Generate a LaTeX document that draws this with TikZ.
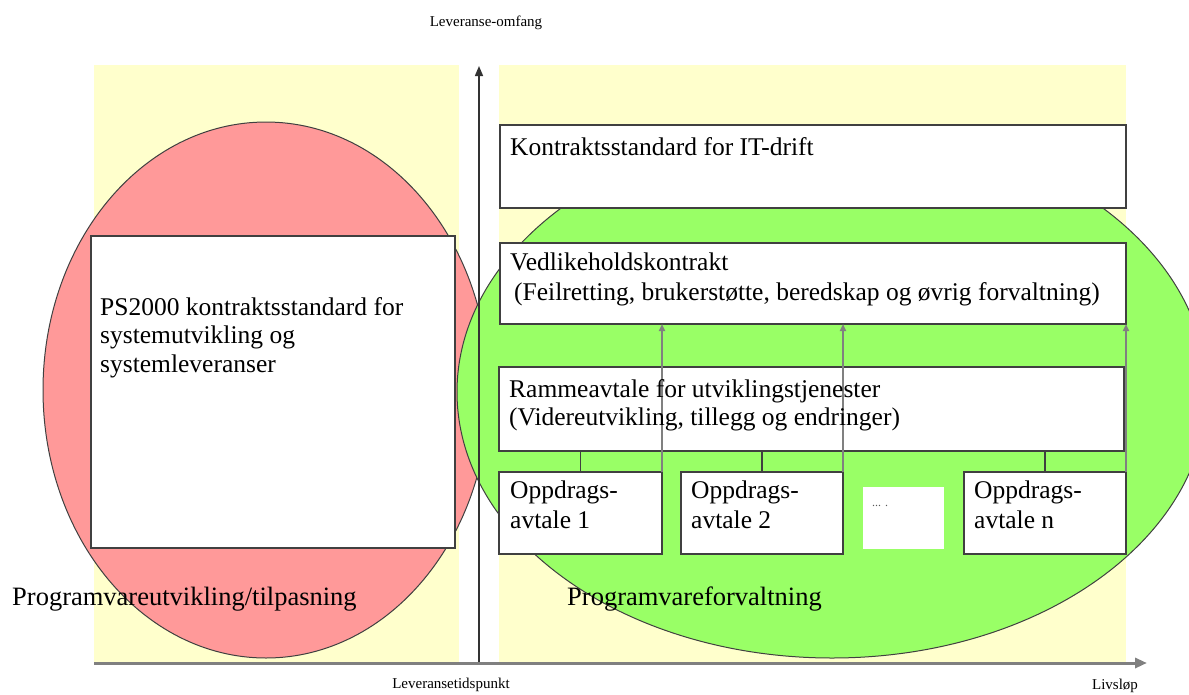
\documentclass[tikz,border=0pt]{standalone}
\usepackage{fontspec}
\setmainfont{Liberation Serif}
\usetikzlibrary{arrows.meta}
\definecolor{yel}{RGB}{255,255,204}
\definecolor{redf}{RGB}{255,153,153}
\definecolor{grnf}{RGB}{153,255,102}
\definecolor{bord}{RGB}{64,64,64}
\definecolor{arrg}{RGB}{128,128,128}
\begin{document}
\begin{tikzpicture}[x=1pt,y=-1pt,
  box/.style={draw=bord,line width=1.5pt,fill=white,inner sep=0pt,outer sep=0pt,anchor=north west},
  blank/.style={fill=white,inner sep=0pt,outer sep=0pt,anchor=north west},
  txt/.style={anchor=base west,inner sep=0pt,font=\fontsize{25.5}{30}\selectfont},
  big/.style={anchor=base west,inner sep=0pt,font=\fontsize{26.5}{30}\selectfont},
  small/.style={anchor=base,inner sep=0pt,font=\fontsize{15}{18}\selectfont},
  blob/.style={draw=bord,line width=1pt},
  link/.style={draw=bord,line width=1.5pt},
  up/.style={draw=arrg,line width=2pt,-{Triangle[length=7pt,width=6pt]}}]
\useasboundingbox (0,0) rectangle (1189,694);
% background bands
\fill[yel] (94,65) rectangle (459,663);
\fill[yel] (499,65) rectangle (1126,663);
% ellipses
\draw[blob,fill=redf] (266,390) ellipse [x radius=223, y radius=268];
\draw[blob,fill=grnf] (832,392) ellipse [x radius=375, y radius=266];
% axes
\coordinate (o) at (479,663);
\coordinate (ytip) at (479,66);
\coordinate (xs) at (94,663);
\coordinate (xtip) at (1147,663);
\draw[draw=black!80,line width=1.5pt,-{Triangle[length=10pt,width=8pt]}] (o) -- (ytip);
\draw[draw=arrg,line width=3pt,-{Triangle[length=12pt,width=10pt]}] (xs) -- (xtip);
% boxes
\node[box,minimum width=364pt,minimum height=312pt] (ps) at (91,236) {};
\node[box,minimum width=626pt,minimum height=83pt] (it) at (500,125) {};
\node[box,minimum width=626pt,minimum height=81pt] (vk) at (500,243) {};
\node[box,minimum width=625pt,minimum height=84pt] (ra) at (499,367) {};
\node[box,minimum width=163pt,minimum height=82pt] (op1) at (499,472) {};
\node[box,minimum width=162pt,minimum height=82pt] (op2) at (681,472) {};
\node[blank,minimum width=81pt,minimum height=62pt] (dots) at (863,487) {};
\node[box,minimum width=162pt,minimum height=82pt] (opn) at (964,472) {};
% links from framework agreement to orders
\draw[link] (ra.south -| op1.north) -- (op1.north);
\draw[link] (ra.south -| op2.north) -- (op2.north);
\draw[link] (ra.south -| opn.north) -- (opn.north);
% arrows to maintenance contract
\draw[up] (op1.north east) -- (vk.south -| op1.north east);
\draw[up] (op2.north east) -- (vk.south -| op2.north east);
\draw[up] (opn.north east) -- (vk.south -| opn.north east);
% texts
\node[txt] (ps1) at (100,315) {PS2000 kontraktsstandard for};
\node[txt] (ps2) at (100,343) {systemutvikling og};
\node[txt] (ps3) at (100,372) {systemleveranser};
\node[txt] (itt) at (510,155) {Kontraktsstandard for IT-drift};
\node[txt] (vk1) at (510,270) {Vedlikeholdskontrakt};
\node[txt] (vk2) at (514,300) {(Feilretting, brukerstøtte, beredskap og øvrig forvaltning)};
\node[txt] (ra1) at (509,397) {Rammeavtale for utviklingstjenester};
\node[txt] (ra2) at (509,425) {(Videreutvikling, tillegg og endringer)};
\node[txt] (o1a) at (510,498) {Oppdrags-};
\node[txt] (o1b) at (510,528) {avtale 1};
\node[txt] (o2a) at (691,498) {Oppdrags-};
\node[txt] (o2b) at (691,528) {avtale 2};
\node[txt] (ona) at (974,498) {Oppdrags-};
\node[txt] (onb) at (974,528) {avtale n};
\node[anchor=base west,inner sep=0pt,font=\fontsize{12}{14}\selectfont,text=black!65] (dt) at (872,506) {... .};
\node[big] (lab1) at (12,605) {Programvareutvikling/tilpasning};
\node[big] (lab2) at (567,605) {Programvareforvaltning};
\node[small] (ya) at (486,26) {Leveranse-omfang};
\node[small] (xa) at (451,688) {Leveransetidspunkt};
\node[small] (xb) at (1115,689) {Livsløp};
\end{tikzpicture}
\end{document}
